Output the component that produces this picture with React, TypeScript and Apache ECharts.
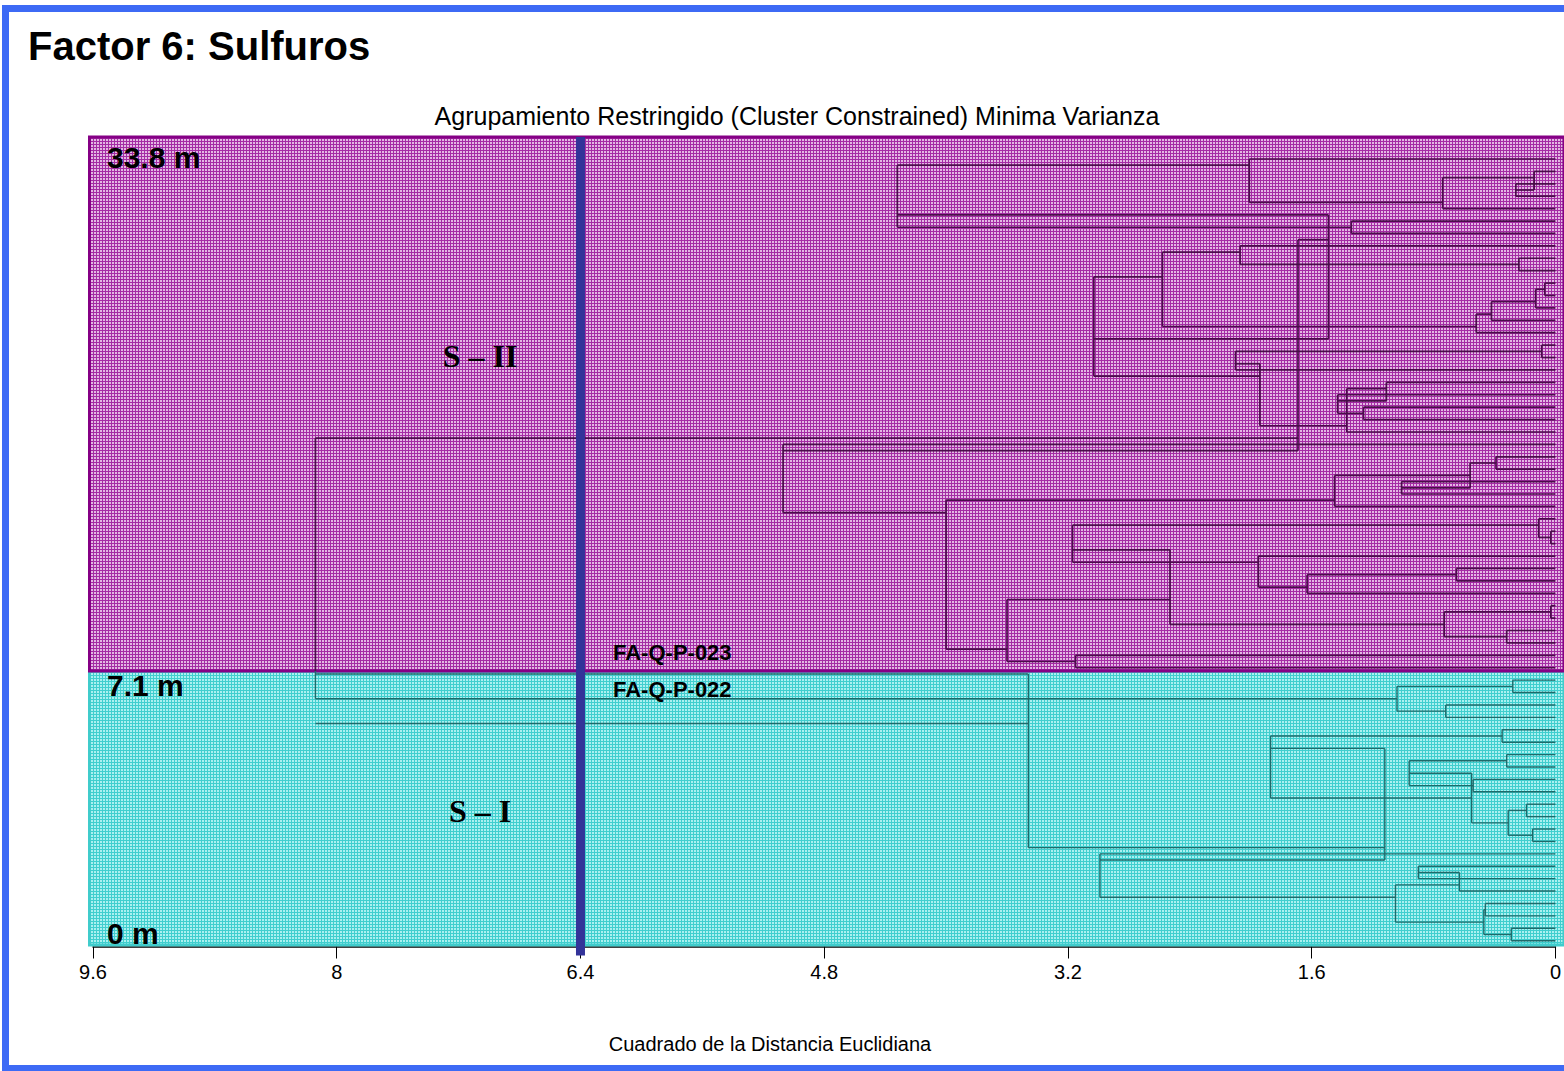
import React, { useEffect, useRef } from "react";
import * as echarts from "echarts";

// ---- data ----
const leafCount = 64;
// each merge: [first sample, first sample of lower group, last sample, squared euclidean distance]
const merges: [number, number, number, number][] = [
  [2, 3, 3, 0.26], [1, 2, 3, 0.14], [1, 4, 4, 0.74], [0, 1, 4, 2.01],
  [5, 6, 6, 1.34], [0, 5, 6, 4.32], [0, 7, 22, 1.49],
  [8, 9, 9, 0.24], [7, 8, 9, 2.07],
  [10, 11, 11, 0.07], [10, 12, 12, 0.13], [10, 13, 13, 0.42], [10, 14, 14, 0.52],
  [7, 10, 14, 2.58],
  [15, 16, 16, 0.09], [15, 17, 17, 2.1],
  [20, 21, 21, 1.26], [19, 20, 21, 1.43], [18, 19, 21, 1.11], [18, 22, 22, 1.37],
  [15, 18, 22, 1.94], [7, 15, 22, 3.03],
  [24, 25, 25, 0.39], [26, 27, 27, 1.01], [24, 26, 27, 0.56], [24, 28, 28, 1.45],
  [30, 31, 31, 0.03], [29, 30, 31, 0.11],
  [33, 34, 34, 0.65], [33, 35, 35, 1.63], [32, 33, 35, 1.95], [29, 32, 35, 3.17],
  [36, 37, 37, 0.03], [38, 39, 39, 0.32], [36, 38, 39, 0.73], [29, 36, 39, 2.53],
  [40, 41, 41, 3.15], [29, 40, 41, 3.6], [24, 29, 41, 4.0], [23, 24, 41, 5.07],
  [0, 23, 41, 1.69],
  [42, 43, 43, 0.28], [44, 45, 45, 0.72], [42, 44, 45, 1.04],
  [0, 42, 45, 8.14],
  [46, 47, 47, 0.35], [48, 49, 49, 0.32], [50, 51, 51, 0.54], [48, 50, 51, 0.96],
  [52, 53, 53, 0.19], [54, 55, 55, 0.15], [52, 54, 55, 0.31], [48, 52, 55, 0.55],
  [46, 48, 55, 1.87],
  [57, 58, 58, 0.9], [57, 59, 59, 0.63], [60, 61, 61, 0.46], [62, 63, 63, 0.29],
  [60, 62, 63, 0.47], [57, 60, 63, 1.05], [56, 57, 63, 2.99], [46, 56, 63, 1.12],
  [0, 46, 63, 3.46],
];
const cutDistance = 6.4;
const xMax = 9.6;
const xInterval = 1.6;
const zoneNames = ["S – II", "S – I"];
// zone limits in sample-position units (0 = top sample)
const zoneEdges = [-1.773, 41.26, 63.35];
const yMin = -1.773;
const yMax = 63.467;
const depthLabels = ["33.8 m", "7.1 m", "0 m"];
const boundarySamples = ["FA-Q-P-023", "FA-Q-P-022"];
const title = "Factor 6: Sulfuros";
const subtitle = "Agrupamiento Restringido (Cluster Constrained) Minima Varianza";
const xName = "Cuadrado de la Distancia Euclidiana";

// ---- build dendrogram segments from the merges ----
function buildSegments() {
  const byRange: Record<string, [number, number, number, number]> = {};
  merges.forEach((m) => (byRange[m[0] + "-" + m[2]] = m));
  const node = (a: number, b: number) => {
    if (a === b) return { y: a, h: 0 };
    const m = byRange[a + "-" + b];
    return { y: m[1] - 0.5, h: m[3] };
  };
  const maxH = Math.max(...merges.map((m) => m[3]));
  const segs: number[][] = [];
  const split = zoneEdges[1];
  const pushV = (x: number, y1: number, y2: number) => {
    const a = Math.min(y1, y2), b = Math.max(y1, y2);
    if (a < split && b > split) {
      segs.push([x, a, x, split, 0]);
      segs.push([x, split, x, b, 1]);
    } else segs.push([x, a, x, b, a < split ? 0 : 1]);
  };
  const pushH = (y: number, x1: number, x2: number) => segs.push([x1, y, x2, y, y < split ? 0 : 1]);
  merges.forEach(([first, lower, last, h]) => {
    const up = node(first, lower - 1);
    const lo = node(lower, last);
    pushH(up.y, up.h, h);
    pushH(lo.y, lo.h, h);
    pushV(h, up.y, lo.y);
    if (first === 0 && last === leafCount - 1) pushH(lower - 0.5, h, maxH);
  });
  return segs;
}

function makePattern(bg: string, line: string, size: number) {
  const c = document.createElement("canvas");
  c.width = size;
  c.height = size;
  const ctx = c.getContext("2d")!;
  ctx.fillStyle = bg;
  ctx.fillRect(0, 0, size, size);
  ctx.fillStyle = line;
  ctx.fillRect(0, 0, size, 1);
  ctx.fillRect(0, 0, 1, size);
  return { image: c, repeat: "repeat", imageWidth: size, imageHeight: size } as any;
}

export default function App() {
  const ref = useRef<HTMLDivElement>(null);
  useEffect(() => {
    if (!ref.current) return;
    const chart = echarts.init(ref.current, undefined, { renderer: "svg" });
    const segs = buildSegments();
    const zoneFill = [makePattern("#e3b8e3", "#a42ca4", 3), makePattern("#aaf0f0", "#40cece", 3)];
    const zoneStroke = ["#850085", "#40cccc"];
    const lineColor = ["#4a0c4a", "#1e6a6a"];
    const sans = "'Liberation Sans', Arial, sans-serif";

    chart.setOption({
      animation: false,
      grid: { left: 93, right: 4.5, top: 137, bottom: 124.5 },
      xAxis: {
        type: "value",
        inverse: true,
        min: 0,
        max: xMax,
        interval: xInterval,
        axisLine: { show: true, onZero: false, lineStyle: { color: "#000", width: 1.5 } },
        axisTick: { show: true, length: 12, lineStyle: { color: "#000", width: 1 } },
        axisLabel: { fontSize: 20, color: "#000", margin: 15, fontFamily: sans },
        splitLine: { show: false },
      },
      yAxis: { type: "value", inverse: true, min: yMin, max: yMax, show: false },
      series: [
        {
          type: "custom",
          z: 1,
          data: zoneNames.map((_, i) => [i]),
          renderItem: (params: any, api: any) => {
            const i = params.dataIndex;
            const order = i === 0 ? 2 : 1;
            const p1 = api.coord([xMax, zoneEdges[i]]);
            const p2 = api.coord([0, zoneEdges[i + 1]]);
            return {
              type: "rect",
              z2: order,
              shape: { x: p1[0] - 3.5, y: p1[1], width: p2[0] - p1[0] + 12, height: p2[1] - p1[1] },
              style: { fill: zoneFill[i], stroke: zoneStroke[i], lineWidth: 3 },
            };
          },
        },
        {
          type: "custom",
          z: 3,
          data: segs,
          encode: { x: [0, 2], y: [1, 3] },
          renderItem: (params: any, api: any) => {
            const a = api.coord([api.value(0), api.value(1)]);
            const b = api.coord([api.value(2), api.value(3)]);
            const zone = api.value(4);
            return {
              type: "line",
              shape: { x1: a[0], y1: a[1], x2: b[0], y2: b[1] },
              style: { stroke: lineColor[zone], lineWidth: zone === 0 ? 1.7 : 1.4 },
            };
          },
        },
        {
          type: "custom",
          z: 4,
          data: [[cutDistance]],
          renderItem: (params: any, api: any) => {
            const top = api.coord([api.value(0), yMin]);
            const bot = api.coord([api.value(0), yMax]);
            return {
              type: "rect",
              shape: { x: top[0] - 4.5, y: top[1], width: 9, height: bot[1] - top[1] + 9 },
              style: { fill: "#333399" },
            };
          },
        },
      ],
      graphic: [
        { type: "text", x: 28, y: 46, z: 10, style: { text: title, font: `bold 40px ${sans}`, fill: "#000", verticalAlign: "middle" } },
        { type: "text", x: 797, y: 116, z: 10, style: { text: subtitle, font: `25px ${sans}`, fill: "#000", align: "center", verticalAlign: "middle" } },
        { type: "text", x: 107, y: 157, z: 10, style: { text: depthLabels[0], font: `bold 30px ${sans}`, fill: "#000", verticalAlign: "middle" } },
        { type: "text", x: 107, y: 685, z: 10, style: { text: depthLabels[1], font: `bold 30px ${sans}`, fill: "#000", verticalAlign: "middle" } },
        { type: "text", x: 107, y: 933, z: 10, style: { text: depthLabels[2], font: `bold 30px ${sans}`, fill: "#000", verticalAlign: "middle" } },
        { type: "text", x: 480, y: 356, z: 10, style: { text: zoneNames[0], font: `bold 32px 'Liberation Serif', 'Times New Roman', serif`, fill: "#000", align: "center", verticalAlign: "middle" } },
        { type: "text", x: 480, y: 811, z: 10, style: { text: zoneNames[1], font: `bold 32px 'Liberation Serif', 'Times New Roman', serif`, fill: "#000", align: "center", verticalAlign: "middle" } },
        { type: "text", x: 613, y: 652, z: 10, style: { text: boundarySamples[0], font: `bold 22px ${sans}`, fill: "#000", verticalAlign: "middle" } },
        { type: "text", x: 613, y: 689, z: 10, style: { text: boundarySamples[1], font: `bold 22px ${sans}`, fill: "#000", verticalAlign: "middle" } },
        { type: "text", x: 770, y: 1044, z: 10, style: { text: xName, font: `20px ${sans}`, fill: "#000", align: "center", verticalAlign: "middle" } },
      ],
    });
    return () => chart.dispose();
  }, []);

  return (
    <div style={{ position: "absolute", left: 0, top: 0, width: 1564, height: 1071, overflow: "hidden", background: "#fff" }}>
      <div
        style={{
          position: "absolute",
          left: 2,
          top: 5,
          width: 1700,
          height: 1067,
          border: "7px solid #3d6af5",
          boxSizing: "border-box",
        }}
      />
      <div ref={ref} style={{ position: "absolute", left: 0, top: 0, width: 1564, height: 1071 }} />
    </div>
  );
}
